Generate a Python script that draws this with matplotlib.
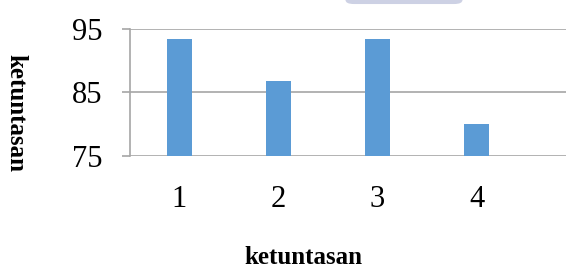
import matplotlib.pyplot as plt
from matplotlib.patches import FancyBboxPatch

categories = [1, 2, 3, 4]
values = [93.4, 86.8, 93.4, 80.0]
yticks = [75, 85, 95]

plt.rcParams['font.family'] = ['Liberation Serif', 'DejaVu Serif']

fig = plt.figure(figsize=(5.66, 2.69), dpi=100)
ax = fig.add_axes([130 / 566, 1 - 155.7 / 269, 436 / 566, 126.7 / 269])

ax.bar(categories, values, width=0.25, color='#5b9bd5', zorder=3)
ax.set_ylim(75, 95)
ax.set_xlim(0.5, 0.5 + 436 / 99)
ax.set_yticks(yticks)
ax.set_xticks(categories)
ax.yaxis.grid(True, color='#a6a6a6', linewidth=1.2, zorder=0)
ax.set_axisbelow(True)

for side in ['top', 'right', 'bottom']:
    ax.spines[side].set_visible(False)
ax.spines['left'].set_color('#a6a6a6')
ax.spines['left'].set_linewidth(1.2)

ax.tick_params(axis='y', length=6, color='#a6a6a6', width=1.2, pad=14, labelsize=22)
ax.tick_params(axis='x', length=0, pad=21, labelsize=22)

fig.text(303 / 566, 1 - 257 / 269, 'ketuntasan', fontsize=18,
         fontweight='bold', ha='center', va='center')
fig.text(16 / 566, 1 - 113 / 269, 'ketuntasan', rotation=-90, fontsize=18,
         fontweight='bold', ha='center', va='center')

# faint watermark shape at the top edge
fig.patches.append(FancyBboxPatch((354 / 566, 1.0), 100 / 566, 0.0,
                                  boxstyle='round,pad=0.015',
                                  transform=fig.transFigure,
                                  facecolor='#cdd1e4', edgecolor='none'))

fig.savefig('out.png', dpi=100)
